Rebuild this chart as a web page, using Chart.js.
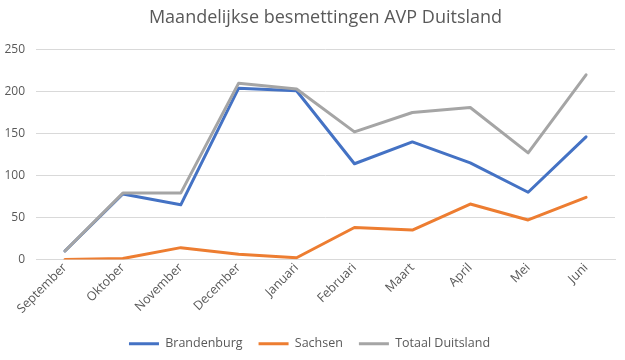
<!DOCTYPE html>
<html lang="nl">
<head>
    <meta charset="UTF-8">
    <title>Maandelijkse besmettingen AVP Duitsland</title>
    <script src="https://cdn.jsdelivr.net/npm/chart.js"></script>
    <style>
        body { margin: 0; background: #fff; }
        #wrap { width: 625px; height: 360px; }
    </style>
</head>
<body>
    <div id="wrap">
        <canvas id="avpChart" width="625" height="360"></canvas>
    </div>

    <script>
        const months = ['September', 'Oktober', 'November', 'December', 'Januari', 'Februari', 'Maart', 'April', 'Mei', 'Juni'];
        const brandenburg = [10, 78, 65, 204, 201, 114, 140, 115, 80, 146];
        const sachsen = [0, 1, 14, 6, 2, 38, 35, 66, 47, 74];
        const totaal = [10, 79, 79, 210, 203, 152, 175, 181, 127, 220];

        const textColor = '#595959';
        const gridColor = '#d9d9d9';

        function lineSet(label, data, color, order) {
            return {
                label: label,
                data: data,
                borderColor: color,
                backgroundColor: color,
                borderWidth: 3,
                pointRadius: 0,
                tension: 0,
                borderCapStyle: 'round',
                borderJoinStyle: 'round',
                order: order
            };
        }

        // centre the title over the plot area like Excel does
        const titleShift = {
            id: 'titleShift',
            afterLayout(chart) {
                const t = chart.titleBlock;
                const mid = (chart.chartArea.left + chart.chartArea.right) / 2;
                const half = (t.right - t.left) / 2;
                t.left = mid - half;
                t.right = mid + half;
            }
        };

        Chart.defaults.font.family = '"Open Sans", sans-serif';
        Chart.defaults.color = textColor;

        new Chart(document.getElementById('avpChart'), {
            type: 'line',
            data: {
                labels: months,
                datasets: [
                    lineSet('Brandenburg', brandenburg, '#4472c4', 2),
                    lineSet('Sachsen', sachsen, '#ed7d31', 1),
                    lineSet('Totaal Duitsland', totaal, '#a5a5a5', 0)
                ]
            },
            plugins: [titleShift],
            options: {
                responsive: false,
                animation: false,
                layout: { autoPadding: false, padding: { left: 4, right: 10, top: 5, bottom: 0 } },
                plugins: {
                    title: {
                        display: true,
                        text: 'Maandelijkse besmettingen AVP Duitsland',
                        font: { size: 18, weight: 'normal' },
                        color: textColor,
                        padding: { top: 2, bottom: 21 }
                    },
                    legend: {
                        position: 'bottom',
                        labels: {
                            usePointStyle: true,
                            pointStyle: 'line',
                            pointStyleWidth: 30,
                            font: { size: 12.5 },
                            color: textColor,
                            padding: 16,
                            sort: (a, b) => a.datasetIndex - b.datasetIndex
                        }
                    },
                    tooltip: { enabled: false }
                },
                scales: {
                    x: {
                        offset: true,
                        afterFit: (scale) => { scale.height += 4; },
                        grid: { display: false, drawTicks: false },
                        border: { color: gridColor },
                        ticks: {
                            minRotation: 45,
                            maxRotation: 45,
                            padding: 1,
                            font: { size: 12.5 },
                            color: textColor
                        }
                    },
                    y: {
                        min: 0,
                        max: 250,
                        afterFit: (scale) => { scale.width = 32; },
                        grid: { color: gridColor, drawTicks: false },
                        border: { display: false },
                        ticks: {
                            stepSize: 50,
                            padding: 11,
                            font: { size: 12 },
                            color: textColor
                        }
                    }
                }
            }
        });
    </script>
</body>
</html>
